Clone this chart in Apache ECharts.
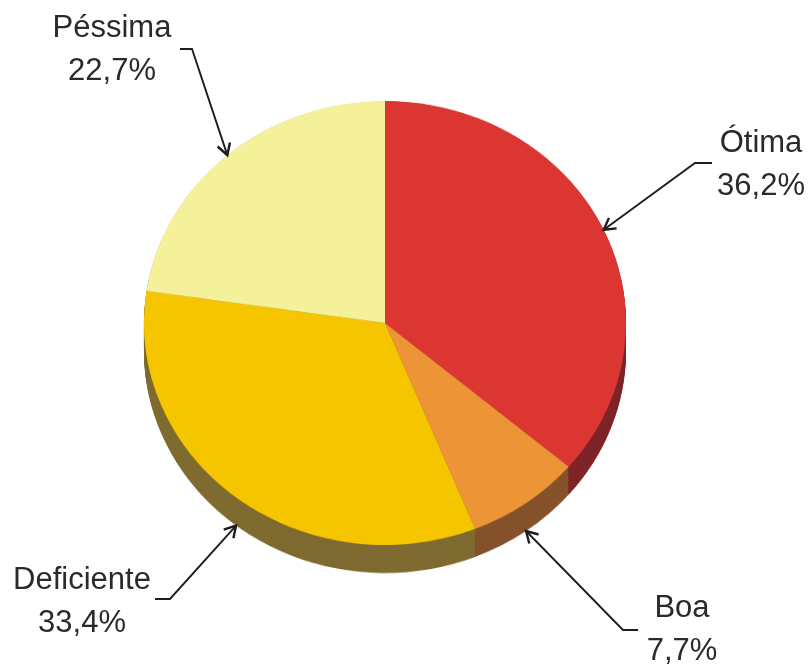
<!DOCTYPE html>
<html><head><meta charset="utf-8">
<script src="https://cdn.jsdelivr.net/npm/echarts@6/dist/echarts.min.js"></script>
<style>
html,body{margin:0;padding:0;background:#fff;}
#wrap{position:relative;width:809px;height:666px;overflow:hidden;background:#fff}
#pie,#ann{position:absolute;left:0;top:0;width:809px;height:666px}
#pie{transform:scaleY(0.921);transform-origin:0 323px}
</style></head>
<body><div id="wrap"><div id="pie"></div><div id="ann"></div></div>
<script>
// ---- data ----
const categories = ['Ótima', 'Boa', 'Deficiente', 'Péssima'];
const values = [36.2, 7.7, 33.4, 22.7];
const valueLabels = ['36,2%', '7,7%', '33,4%', '22,7%'];

// ---- styles / layout ----
const topColors = ['#DC3632', '#EC9436', '#F5C500', '#F5F09A'];
const sideColors = ['#7E2428', '#85522B', '#7F6B30', '#7F7A4A'];
const CX = 385, CY = 323, RX = 241, SY = 0.921, DEPTH = 28;
const R = RX;                 // radius in unscaled chart space
const depthChart = DEPTH / SY; // depth in unscaled chart space
// label text anchor (centre) and elbow of leader line
const labelLayout = {
  'Ótima':      { x: 761, y: 165, elbow: [[712,163],[695,163]] },
  'Boa':        { x: 682, y: 630, elbow: [[638,630],[623,630]] },
  'Deficiente': { x: 82,  y: 602, elbow: [[155,599],[170,599]] },
  'Péssima':    { x: 112, y: 50,  elbow: [[180,49],[192,49]] }
};

const pieData = (colors) => categories.map((c, i) => ({
  name: c, value: values[i], itemStyle: { color: colors[i] }
}));

const series = [];
const step = 1.5;
for (let k = depthChart; k > 0; k -= step) {
  series.push({
    type: 'pie', radius: R, center: [CX, CY + k], startAngle: 90, clockwise: true,
    data: pieData(sideColors), label: { show: false }, labelLine: { show: false },
    silent: true, animation: false
  });
}
series.push({
  type: 'pie', radius: R, center: [CX, CY], startAngle: 90, clockwise: true,
  data: pieData(topColors), label: { show: false }, labelLine: { show: false },
  silent: true, animation: false
});

const pie = echarts.init(document.getElementById('pie'));
pie.setOption({ backgroundColor: 'transparent', animation: false, series });

// ---- annotations (labels + arrows), computed from the data ----
const total = values.reduce((a, b) => a + b, 0);
const graphics = [];
let cum = 0;
categories.forEach((c, i) => {
  const mid = (cum + values[i] / 2) / total * Math.PI * 2;
  cum += values[i];
  const s = Math.sin(mid), co = Math.cos(mid);
  let tx = CX + RX * s, ty = CY - RX * SY * co;
  if (co < 0) ty += DEPTH;
  const L = labelLayout[c];
  const pts = L.elbow.concat([[tx, ty]]);
  graphics.push({ type: 'polyline', shape: { points: pts },
    style: { stroke: '#1e1e1e', lineWidth: 1.9, fill: null } });
  const [ex, ey] = L.elbow[1];
  let ux = tx - ex, uy = ty - ey; const len = Math.hypot(ux, uy); ux /= len; uy /= len;
  const a = 30 * Math.PI / 180, AL = 13;
  const p1 = [tx - AL * (ux * Math.cos(a) - uy * Math.sin(a)), ty - AL * (ux * Math.sin(a) + uy * Math.cos(a))];
  const p2 = [tx - AL * (ux * Math.cos(-a) - uy * Math.sin(-a)), ty - AL * (ux * Math.sin(-a) + uy * Math.cos(-a))];
  graphics.push({ type: 'polyline', shape: { points: [p1, [tx, ty], p2] },
    style: { stroke: '#1e1e1e', lineWidth: 2.4, fill: null, lineJoin: 'miter' } });
  graphics.push({ type: 'text', x: L.x, y: L.y,
    style: { text: c + '\n' + valueLabels[i], fill: '#2a2a2a', font: '31px "Liberation Sans", Arial, sans-serif',
      align: 'center', verticalAlign: 'middle', lineHeight: 43 } });
});

const ann = echarts.init(document.getElementById('ann'));
ann.setOption({ backgroundColor: 'transparent', animation: false, graphic: graphics });
</script></body></html>
